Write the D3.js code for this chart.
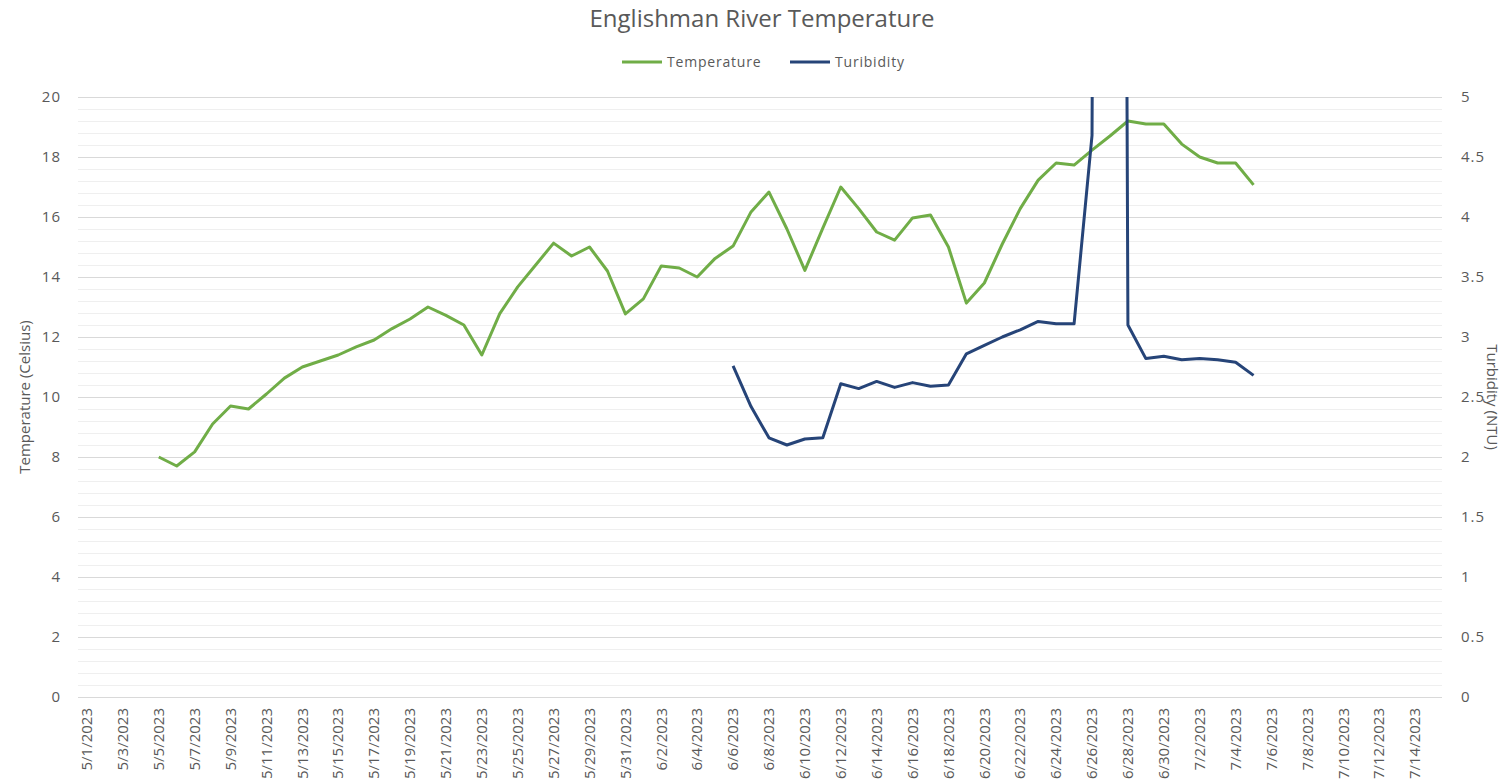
<!DOCTYPE html>
<html>
<head>
<meta charset="utf-8">
<script src="https://cdn.jsdelivr.net/npm/d3@7"></script>
<style>
  body { margin: 0; background: #fff; }
  svg text { font-family: "Open Sans", "Noto Sans", sans-serif; fill: #595959; }
</style>
</head>
<body>
<svg id="chart" width="1503" height="782"></svg>
<script>
'use strict'

// categories: one per day, 5/1/2023 .. 7/15/2023
const firstDay = new Date(2023, 4, 1)
const lastDay = new Date(2023, 6, 15)

// temperature (Celsius), daily from 5/5/2023
const tempStart = new Date(2023, 4, 5)
const tempValues = [
	8.0, 7.7, 8.17, 9.1, 9.7, 9.6, 10.1, 10.63, 11.0, 11.2,
	11.4, 11.67, 11.9, 12.28, 12.6, 13.0, 12.72, 12.4, 11.4, 12.78,
	13.67, 14.4, 15.13, 14.7, 15.0, 14.2, 12.77, 13.27, 14.37, 14.3,
	14.0, 14.62, 15.03, 16.17, 16.83, 15.6, 14.22, 15.63, 17.0, 16.28,
	15.5, 15.23, 15.97, 16.07, 15.0, 13.13, 13.8, 15.1, 16.28, 17.23,
	17.8, 17.73, 18.23, 18.7, 19.2, 19.1, 19.1, 18.43, 18.0, 17.8,
	17.8, 17.07
]

// turbidity (NTU), daily from 6/6/2023
const turbStart = new Date(2023, 5, 6)
const turbValues = [
	2.76, 2.42, 2.16, 2.10, 2.15, 2.16, 2.61, 2.57, 2.63, 2.58,
	2.62, 2.59, 2.60, 2.86, 2.93, 3.00, 3.06, 3.13, 3.11, 3.11,
	4.68, 40, 3.10, 2.82, 2.84, 2.81, 2.82, 2.81, 2.79, 2.68
]

const tempTicks = [0, 2, 4, 6, 8, 10, 12, 14, 16, 18, 20]
const turbTicks = [0, 0.5, 1, 1.5, 2, 2.5, 3, 3.5, 4, 4.5, 5]

const fmt = d3.timeFormat('%-m/%-d/%Y')
const days = d3.timeDay.range(firstDay, d3.timeDay.offset(lastDay, 1))
const cats = days.map(fmt)

function series(start, values){
	return values.map(function(v, i){
		return {key: fmt(d3.timeDay.offset(start, i)), value: v}
	})
}
const tempData = series(tempStart, tempValues)
const turbData = series(turbStart, turbValues)

const margin = {top: 97, right: 61, bottom: 85, left: 78}
const width = 1503, height = 782
const svg = d3.select('#chart')

const x = d3.scaleBand().domain(cats).range([margin.left, width - margin.right])
const yT = d3.scaleLinear().domain([0, 20]).range([height - margin.bottom, margin.top])
const yN = d3.scaleLinear().domain([0, 5]).range([height - margin.bottom, margin.top])

// minor grid (every 0.1 NTU) then major grid (every 2 C)
svg.append('g').selectAll('line')
	.data(d3.range(0, 51).map(function(d){ return d / 10 }))
	.join('line')
	.attr('x1', margin.left).attr('x2', width - margin.right)
	.attr('y1', function(d){ return Math.round(yN(d)) + 0.5 })
	.attr('y2', function(d){ return Math.round(yN(d)) + 0.5 })
	.attr('stroke', '#efefef')

svg.append('g').selectAll('line')
	.data(tempTicks)
	.join('line')
	.attr('x1', margin.left).attr('x2', width - margin.right)
	.attr('y1', function(d){ return Math.round(yT(d)) + 0.5 })
	.attr('y2', function(d){ return Math.round(yT(d)) + 0.5 })
	.attr('stroke', '#d9d9d9')

// axes
const leftAxis = svg.append('g')
	.attr('transform', 'translate(' + (margin.left - 17) + ',0)')
	.call(d3.axisLeft(yT).tickValues(tempTicks).tickSize(0).tickPadding(0))
leftAxis.select('.domain').remove()

const rightAxis = svg.append('g')
	.attr('transform', 'translate(' + (width - margin.right + 19) + ',0)')
	.call(d3.axisRight(yN).tickValues(turbTicks).tickSize(0).tickPadding(0).tickFormat(d3.format('')))
rightAxis.select('.domain').remove()

svg.selectAll('.tick text')
	.style('font-size', '15px')
	.style('letter-spacing', '1px')
	.style('font-family', '"Open Sans", sans-serif')
	.attr('fill', '#595959')

const bottomAxis = svg.append('g')
	.attr('transform', 'translate(0,' + (height - margin.bottom + 11) + ')')
	.call(d3.axisBottom(x).tickValues(cats.filter(function(d, i){ return i % 2 === 0 })).tickSize(0).tickPadding(0))
bottomAxis.select('.domain').remove()
bottomAxis.selectAll('text')
	.attr('transform', 'rotate(-90)')
	.attr('x', 0).attr('y', 0).attr('dy', '0.35em')
	.style('text-anchor', 'end')
	.style('font-size', '15px')
	.style('font-family', '"Open Sans", sans-serif')
	.attr('fill', '#595959')

// clip lines to plot area
svg.append('clipPath').attr('id', 'plotclip')
	.append('rect')
	.attr('x', margin.left).attr('y', margin.top)
	.attr('width', width - margin.left - margin.right)
	.attr('height', height - margin.top - margin.bottom)

const cx = function(d){ return x(d.key) + x.bandwidth() / 2 }

svg.append('path')
	.datum(tempData)
	.attr('clip-path', 'url(#plotclip)')
	.attr('fill', 'none')
	.attr('stroke', '#70ad47')
	.attr('stroke-width', 3)
	.attr('stroke-linejoin', 'round')
	.attr('d', d3.line().x(cx).y(function(d){ return yT(d.value) }))

svg.append('path')
	.datum(turbData)
	.attr('clip-path', 'url(#plotclip)')
	.attr('fill', 'none')
	.attr('stroke', '#264478')
	.attr('stroke-width', 3)
	.attr('stroke-linejoin', 'round')
	.attr('d', d3.line().x(cx).y(function(d){ return yN(d.value) }))

// title
svg.append('text')
	.attr('x', 762).attr('y', 27)
	.attr('text-anchor', 'middle')
	.style('font-size', '24px')
	.text('Englishman River Temperature')

// legend
const legend = [
	{name: 'Temperature', color: '#70ad47', x: 622},
	{name: 'Turibidity', color: '#264478', x: 790}
]
const lg = svg.append('g').selectAll('g').data(legend).join('g')
	.attr('transform', function(d){ return 'translate(' + d.x + ',62)' })
lg.append('line').attr('x1', 0).attr('x2', 40)
	.attr('stroke', function(d){ return d.color }).attr('stroke-width', 3)
lg.append('text').attr('x', 45).attr('dy', '0.35em')
	.style('font-size', '14px')
	.style('letter-spacing', '0.8px')
	.text(function(d){ return d.name })

// axis titles
svg.append('text')
	.attr('transform', 'translate(25,397) rotate(-90)')
	.attr('text-anchor', 'middle').attr('dy', '0.35em')
	.style('font-size', '15px')
	.text('Temperature (Celsius)')

svg.append('text')
	.attr('transform', 'translate(1492,397) rotate(90)')
	.attr('text-anchor', 'middle').attr('dy', '0.35em')
	.style('font-size', '15px')
	.text('Turbidity (NTU)')
</script>
</body>
</html>
